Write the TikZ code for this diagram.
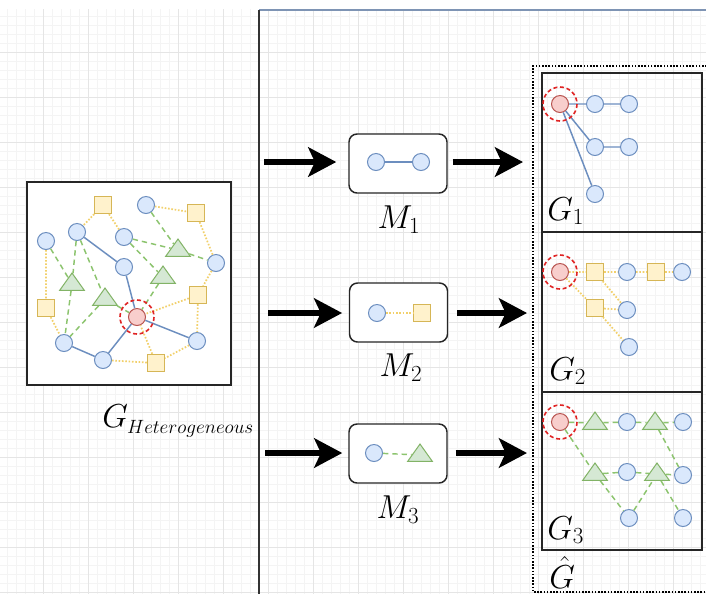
\documentclass[tikz,border=0pt]{standalone}
\usetikzlibrary{shapes.geometric,arrows.meta}
\definecolor{bluefill}{HTML}{DAE8FC}
\definecolor{bluedraw}{HTML}{6C8EBF}
\definecolor{yellowfill}{HTML}{FFF2CC}
\definecolor{yellowdraw}{HTML}{D6B656}
\definecolor{yellowlink}{HTML}{F2D06B}
\definecolor{greenfill}{HTML}{D5E8D4}
\definecolor{greendraw}{HTML}{82B366}
\definecolor{greenlink}{HTML}{8CC46E}
\definecolor{redfill}{HTML}{F8CECC}
\definecolor{reddraw}{HTML}{B85450}
\definecolor{ringred}{HTML}{E02424}
\definecolor{gridminor}{HTML}{F4F4F4}
\definecolor{gridmajor}{HTML}{E5E5E5}
\definecolor{topblue}{HTML}{7E94B4}
\tikzset{
  vtx/.style={circle, draw=bluedraw, fill=bluefill, line width=0.75pt, minimum size=12.75pt, inner sep=0pt},
  anchorvtx/.style={vtx, draw=reddraw, fill=redfill},
  sq/.style={rectangle, draw=yellowdraw, fill=yellowfill, line width=0.75pt, minimum size=13pt, inner sep=0pt},
  tri/.style={isosceles triangle, isosceles triangle stretches, shape border rotate=90, draw=greendraw, fill=greenfill, line width=0.75pt, minimum width=18.5pt, minimum height=13pt, inner sep=0pt},
  ring/.style={draw=ringred, line width=1.2pt, dash pattern=on 3pt off 2pt},
  solidlink/.style={draw=bluedraw, line width=1.1pt},
  dotlink/.style={draw=yellowlink, line width=1.3pt, dash pattern=on 1.2pt off 1.3pt},
  dashlink/.style={draw=greenlink, line width=1.1pt, dash pattern=on 4pt off 3pt},
  panel/.style={rectangle, draw=black!85, line width=1.5pt, minimum width=120pt, inner sep=0pt},
  motif/.style={rectangle, draw=black!85, line width=1.1pt, rounded corners=6pt, fill=white, minimum width=73.5pt, minimum height=44.25pt},
  bigarrow/.style={line width=4.5pt, -{Stealth[length=21pt,width=22pt,inset=5pt]}},
  lbl/.style={font=\fontsize{23}{26}\selectfont, inner sep=0pt}
}
\begin{document}
\begin{tikzpicture}[x=0.75pt,y=0.75pt,yscale=-1,xscale=1]
\useasboundingbox (0,0) rectangle (706,594);
\fill[white] (0,0) rectangle (706,594);

%Grid
\foreach \gx in {7,16,...,706} \draw[gridminor, line width=0.6pt] (\gx,9) -- (\gx,594);
\foreach \gy in {16,25,...,594} \draw[gridminor, line width=0.6pt] (0,\gy) -- (706,\gy);
\foreach \gx in {43,88,...,706} \draw[gridmajor, line width=0.75pt] (\gx,9) -- (\gx,594);
\foreach \gy in {52,97,...,594} \draw[gridmajor, line width=0.75pt] (0,\gy) -- (706,\gy);

%Frame lines
\draw[topblue, line width=1.2pt] (259,10) -- (706,10);
\draw[black!80, line width=1.5pt] (259,10) -- (259,594);

%Heterogeneous graph
\node[rectangle, draw=black!85, fill=white, line width=1.5pt, minimum width=153pt, minimum height=152.25pt] (het) at (129,283.5) {};
\node[sq] (s1) at (103,205) {};
\node[vtx] (c1) at (146,205) {};
\node[sq] (s2) at (196,213) {};
\node[vtx] (c2) at (77,232) {};
\node[vtx] (c3) at (46,241) {};
\node[vtx] (c4) at (124,237) {};
\node[tri] (t1) at (178,250) {};
\node[vtx] (c5) at (216,263) {};
\node[vtx] (c6) at (124,267) {};
\node[tri] (t2) at (163,277) {};
\node[tri] (t3) at (72,284) {};
\node[tri] (t4) at (105,299) {};
\node[sq] (s3) at (198,295) {};
\node[sq] (s4) at (46,308) {};
\node[anchorvtx] (r0) at (137,317) {};
\node[vtx] (c7) at (64,343) {};
\node[vtx] (c8) at (197,341) {};
\node[vtx] (c9) at (103,360) {};
\node[sq] (s5) at (156,363) {};
\draw[solidlink] (c2) -- (c6) (c6) -- (r0) (r0) -- (c9) (c9) -- (c7) (r0) -- (c8);
\draw[dotlink] (s1) -- (c2) (s1) -- (c4) (c1) -- (s2) (s2) -- (c5) (c5) -- (s3) (s3) -- (r0)
  (s3) -- (c8) (c8) -- (s5) (s5) -- (c9) (s5) -- (r0) (c3) -- (s4) (s4) -- (c7);
\draw[dashlink] (c3) -- (t3) (c2) -- (t3) (c2) -- (t4) (t3) -- (c7) (t4) -- (c7) (t4) -- (r0)
  (c1) -- (t1) (c4) -- (t1) (t1) -- (c5) (c4) -- (t2) (t2) -- (r0);
\draw[ring] (r0.center) circle (12.75pt);
% Text Node
\node[inner sep=0pt, anchor=base west] (lhet) at (102,427) {\fontsize{25}{28}\selectfont$G$\kern-0.5pt\raisebox{-4.5pt}{\fontsize{14}{16}\selectfont$Heterogeneous$}};

%Motifs
\node[motif] (m1) at (398,163.5) {};
\node[motif] (m2) at (398.5,312.5) {};
\node[motif] (m3) at (398,453.5) {};
\node[vtx] (m1a) at (376,162) {};
\node[vtx] (m1b) at (421,162) {};
\draw[solidlink] (m1a) -- (m1b);
\node[vtx] (m2a) at (377,313) {};
\node[sq] (m2b) at (422,313) {};
\draw[dotlink] (m2a) -- (m2b);
\node[vtx] (m3a) at (374,453) {};
\node[tri] (m3b) at (420,455) {};
\draw[dashlink] (m3a) -- (m3b);
% Text Node
\node[lbl] (lm1) at (399,220) {$M_1$};
\node[lbl] (lm2) at (401,368) {$M_2$};
\node[lbl] (lm3) at (398,510) {$M_3$};

%Arrows
\coordinate (ghat) at (533,66);
\coordinate (in1) at (264,162);
\coordinate (in2) at (268,313);
\coordinate (in3) at (265,453);
\draw[bigarrow, shorten >=9pt] (in1) -- (in1 -| m1.west);
\draw[bigarrow, shorten >=5pt] (in2) -- (in2 -| m2.west);
\draw[bigarrow, shorten >=4.5pt] (in3) -- (in3 -| m3.west);
\draw[bigarrow, shorten <=3.75pt, shorten >=7.5pt] (in1 -| m1.east) -- (in1 -| ghat);
\draw[bigarrow, shorten <=6.75pt, shorten >=4.5pt] (in2 -| m2.east) -- (in2 -| ghat);
\draw[bigarrow, shorten <=6pt, shorten >=4.5pt] (in3 -| m3.east) -- (in3 -| ghat);

%Sampled subgraphs
\draw[black, line width=1.5pt, dash pattern=on 1.2pt off 1.2pt] (710,66) -- (ghat) -- (533,592) -- (710,592);
\node[panel, minimum height=119.25pt] (g1) at (622,152.5) {};
\node[panel, minimum height=120pt] (g2) at (622,312) {};
\node[panel, minimum height=118.5pt] (g3) at (622,471) {};

% G1
\node[anchorvtx] (r1) at (560,104) {};
\node[vtx] (a1) at (595,104) {};
\node[vtx] (b1) at (629,104) {};
\node[vtx] (a2) at (595,147) {};
\node[vtx] (b2) at (629,147) {};
\node[vtx] (a3) at (595,194) {};
\draw[solidlink] (r1) -- (a1) (a1) -- (b1) (r1) -- (a2) (a2) -- (b2) (r1) -- (a3);
\draw[ring] (r1.center) circle (12.75pt);
\node[lbl, anchor=base west] (lg1) at (547,220) {$G_1$};

% G2
\node[anchorvtx] (r2) at (560,272) {};
\node[sq] (p1) at (595,272) {};
\node[vtx] (q1) at (627,272) {};
\node[sq] (p2) at (656,272) {};
\node[vtx] (q2) at (682,272) {};
\node[sq] (p3) at (595,308) {};
\node[vtx] (q3) at (627,310) {};
\node[vtx] (q4) at (629,347) {};
\draw[dotlink] (r2) -- (p1) (p1) -- (q1) (q1) -- (p2) (p2) -- (q2) (r2) -- (p3) (p3) -- (q3)
  (p1) -- (q3) (p3) -- (q4);
\draw[ring] (r2.center) circle (12.75pt);
\node[lbl, anchor=base west] (lg2) at (549,380) {$G_2$};

% G3
\node[anchorvtx] (r3) at (560,422) {};
\node[tri] (u1) at (595,423) {};
\node[vtx] (k1) at (627,422) {};
\node[tri] (u2) at (655,423) {};
\node[vtx] (k2) at (683,422) {};
\node[tri] (u3) at (595,474) {};
\node[vtx] (k3) at (627,472) {};
\node[tri] (u4) at (657,474) {};
\node[vtx] (k4) at (683,475) {};
\node[vtx] (k5) at (629,518) {};
\node[vtx] (k6) at (683,518) {};
\draw[dashlink] (r3) -- (u1) (u1) -- (k1) (k1) -- (u2) (u2) -- (k2) (u2) -- (k4) (r3) -- (u3)
  (u3) -- (k3) (k3) -- (u4) (u4) -- (k4) (u3) -- (k5) (k5) -- (u4) (u4) -- (k6);
\draw[ring] (r3.center) circle (12.75pt);
\node[lbl, anchor=base west] (lg3) at (547,539) {$G_3$};
\node[lbl, anchor=base west] (lgh) at (549,588) {$\hat{G}$};
\end{tikzpicture}
\end{document}
